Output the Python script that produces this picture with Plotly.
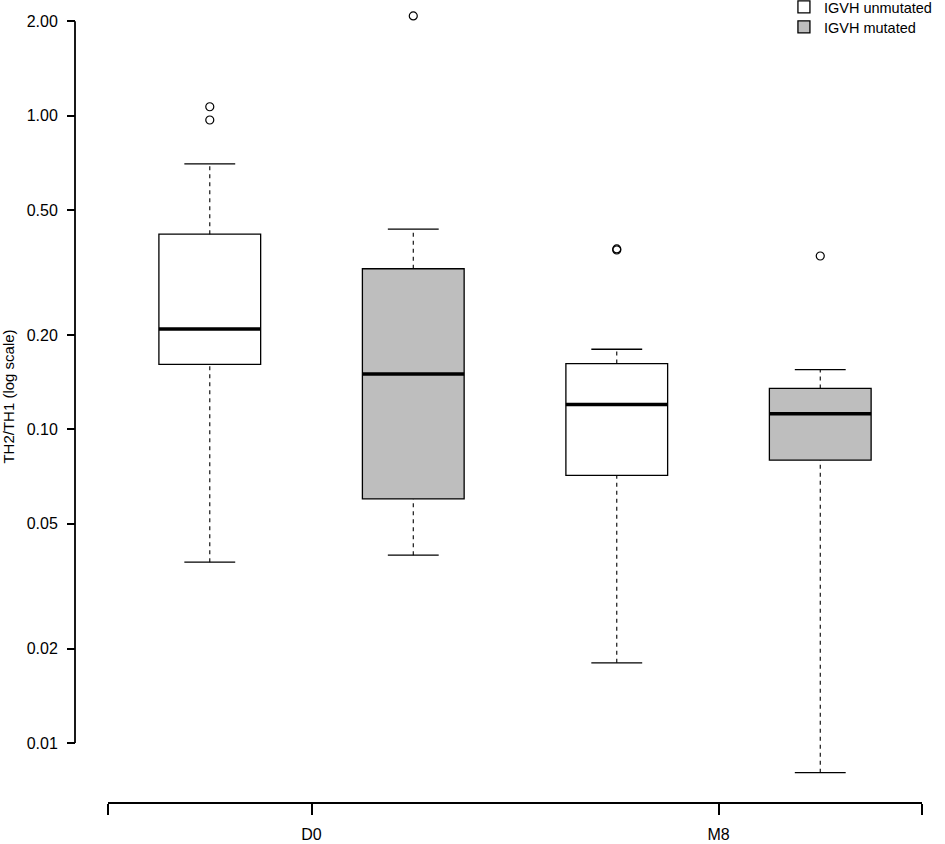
import plotly.graph_objects as go

# box statistics (TH2/TH1 ratio, log scale)
timepoints = ["D0", "D0", "M8", "M8"]
igvh_status = ["IGVH unmutated", "IGVH mutated", "IGVH unmutated", "IGVH mutated"]
lower_whisker = [0.0377, 0.0397, 0.0180, 0.00804]
q1 = [0.161, 0.0600, 0.0713, 0.0797]
median = [0.209, 0.150, 0.120, 0.1121]
q3 = [0.419, 0.325, 0.162, 0.135]
upper_whisker = [0.702, 0.435, 0.180, 0.155]
outliers = [[1.068, 0.969], [2.08], [0.376, 0.373], [0.357]]

# x tick labels (group centres) and y ticks
group_labels = ["D0", "M8"]
y_ticks = [0.01, 0.02, 0.05, 0.10, 0.20, 0.50, 1.00, 2.00]

fill_colors = {"IGVH unmutated": "white", "IGVH mutated": "#BEBEBE"}
legend_names = {"IGVH unmutated": "legend", "IGVH mutated": "legend2"}
positions = [i + 1 for i in range(len(median))]

fig = go.Figure()

# boxes, one trace per IGVH status, each in its own legend so the spacing can be set
for status in ["IGVH unmutated", "IGVH mutated"]:
    idx = [i for i, s in enumerate(igvh_status) if s == status]
    fig.add_trace(go.Box(
        x=[positions[i] for i in idx],
        q1=[q1[i] for i in idx],
        median=[median[i] for i in idx],
        q3=[q3[i] for i in idx],
        name=status,
        legend=legend_names[status],
        width=0.5,
        whiskerwidth=0,
        boxpoints=False,
        fillcolor=fill_colors[status],
        line=dict(color="black", width=1.3),
        hoverinfo="skip",
    ))

# dashed whiskers, caps and thick medians (R boxplot style)
wx, wy, cx, cy, mx, my = [], [], [], [], [], []
for i, p in enumerate(positions):
    wx += [p, p, None, p, p, None]
    wy += [lower_whisker[i], q1[i], None, q3[i], upper_whisker[i], None]
    cx += [p - 0.125, p + 0.125, None, p - 0.125, p + 0.125, None]
    cy += [lower_whisker[i], lower_whisker[i], None, upper_whisker[i], upper_whisker[i], None]
    mx += [p - 0.25, p + 0.25, None]
    my += [median[i], median[i], None]

fig.add_trace(go.Scatter(x=wx, y=wy, mode="lines", showlegend=False, hoverinfo="skip",
                         line=dict(color="black", width=1.1, dash="4px,4px")))
fig.add_trace(go.Scatter(x=cx, y=cy, mode="lines", showlegend=False, hoverinfo="skip",
                         line=dict(color="black", width=1.3)))
fig.add_trace(go.Scatter(x=mx, y=my, mode="lines", showlegend=False, hoverinfo="skip",
                         line=dict(color="black", width=3.5)))

# outliers as open circles
ox, oy = [], []
for i, pts in enumerate(outliers):
    ox += [positions[i]] * len(pts)
    oy += pts
fig.add_trace(go.Scatter(x=ox, y=oy, mode="markers", showlegend=False,
                         marker=dict(symbol="circle-open", size=8, color="black", line=dict(width=1.2))))

# y axis line only between first and last tick, like R's axis()
fig.add_shape(type="line", xref="paper", yref="y", x0=0, x1=0, y0=min(y_ticks), y1=max(y_ticks),
              line=dict(color="black", width=1.8))

legend_style = dict(x=0.837, xanchor="left", yanchor="top", bgcolor="rgba(0,0,0,0)",
                    font=dict(size=14.5), itemwidth=30, borderwidth=0)

fig.update_layout(
    template="none",
    width=945, height=844,
    margin=dict(l=75, r=23, t=8, b=41, autoexpand=False),
    plot_bgcolor="white", paper_bgcolor="white",
    font=dict(family="Liberation Sans, Arial, sans-serif", color="black"),
    boxmode="overlay",
    showlegend=True,
    legend=dict(y=1.0214, **legend_style),
    legend2=dict(y=0.9963, **legend_style),
    xaxis=dict(
        domain=[0.039, 1], range=[0.5, 4.5], anchor="free", position=0, automargin=False,
        tickmode="array", tickvals=[0.5, 1.5, 3.5, 4.5], ticktext=[""] + group_labels + [""],
        showline=True, linecolor="black", linewidth=1.8,
        ticks="outside", ticklen=11, tickwidth=1.8, tickcolor="black",
        tickfont=dict(size=16), ticklabelstandoff=6,
        showgrid=False, zeroline=False,
    ),
    yaxis=dict(
        type="log", domain=[0.0226, 1], range=[-2.1343, 0.3434],
        anchor="free", position=0, automargin=False,
        tickmode="array", tickvals=y_ticks, ticktext=["%.2f" % v for v in y_ticks],
        showline=False, ticks="outside", ticklen=8, tickwidth=1.8, tickcolor="black",
        tickfont=dict(size=16), ticklabelstandoff=6,
        showgrid=False, zeroline=False,
        title=dict(text="TH2/TH1 (log scale)", font=dict(size=15), standoff=10),
    ),
)

# drop the browser's default 8px body margin so the figure sits at the page corner
fig.write_html("out.html", config={"displayModeBar": False},
               post_script="document.body.style.margin='0px';")
